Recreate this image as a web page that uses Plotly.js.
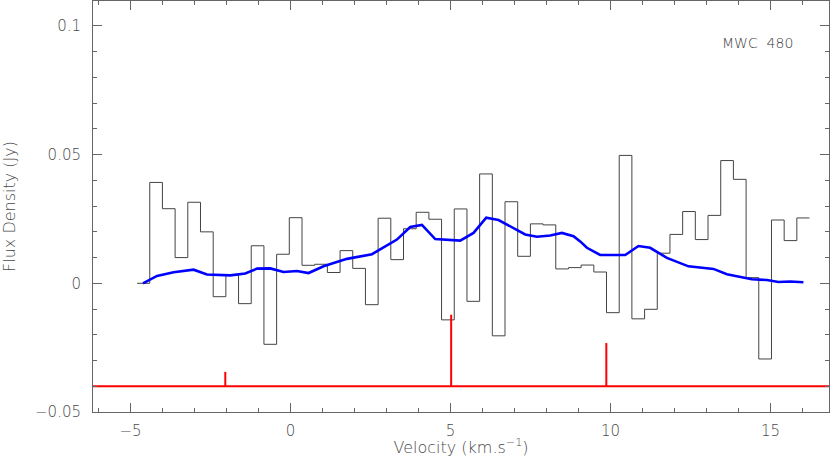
<!DOCTYPE html>
<html>
<head>
<meta charset="utf-8">
<script src="https://cdn.plot.ly/plotly-3.0.1.min.js"></script>
<style>html,body{margin:0;padding:0;background:#fff;}#chart{width:830px;height:457px;}</style>
</head>
<body>
<div id="chart"></div>
<script>
// Histogram spectrum: channel centre velocities (km/s) and flux (Jy)
var velocity = [-4.600,-4.203,-3.807,-3.410,-3.014,-2.617,-2.220,-1.824,-1.427,-1.031,
  -0.634,-0.237,0.159,0.556,0.952,1.349,1.746,2.142,2.539,2.935,
  3.332,3.729,4.125,4.522,4.918,5.315,5.712,6.108,6.505,6.901,
  7.298,7.695,8.091,8.488,8.884,9.281,9.678,10.074,10.471,10.867,
  11.264,11.661,12.057,12.454,12.850,13.247,13.644,14.040,14.437,14.833,
  15.230,15.627,16.023];
var flux = [0.0000,0.0392,0.0290,0.0100,0.0315,0.0200,-0.0052,0.0031,-0.0079,0.0146,
  -0.0237,0.0113,0.0255,0.0070,0.0074,0.0042,0.0127,0.0058,-0.0083,0.0253,
  0.0092,0.0212,0.0276,0.0249,-0.0142,0.0289,-0.0070,0.0425,-0.0204,0.0317,
  0.0105,0.0231,0.0227,0.0056,0.0061,0.0071,0.0044,-0.0114,0.0497,-0.0138,
  -0.0101,0.0117,0.0190,0.0279,0.0170,0.0264,0.0477,0.0404,0.0022,-0.0294,
  0.0246,0.0166,0.0254];
var channelWidth = 0.3966;

// Smoothed model (blue)
var modelV = [-4.613,-4.175,-3.656,-3.031,-2.613,-1.884,-1.416,-1.050,-0.634,-0.219,
  0.200,0.563,1.031,1.553,1.763,2.544,3.325,3.740,4.106,4.522,
  5.303,5.719,6.116,6.500,7.075,7.334,7.700,8.116,8.481,8.844,
  9.053,9.263,9.678,10.459,10.875,11.240,11.763,12.438,13.219,13.638,
  14.419,14.888,15.250,15.616,16.030];
var modelF = [0.0000,0.0029,0.0043,0.0053,0.0034,0.0031,0.0038,0.0057,0.0058,0.0044,
  0.0048,0.0040,0.0066,0.0085,0.0095,0.0113,0.0170,0.0219,0.0227,0.0172,
  0.0166,0.0196,0.0255,0.0246,0.0206,0.0190,0.0181,0.0186,0.0196,0.0183,
  0.0163,0.0138,0.0110,0.0110,0.0145,0.0138,0.0099,0.0066,0.0056,0.0035,
  0.0016,0.0013,0.0005,0.0007,0.0004];

// Hyperfine component markers (red)
var lineV = [-2.04, 5.02, 9.87];
var lineTop = [-0.0344, -0.0122, -0.0232];
var lineBase = -0.040;

var xRange = [-6.175, 16.83];
var yRange = [-0.05, 0.1097];

// histogram edges
var hx = [], hy = [];
for (var i = 0; i < velocity.length; i++) {
  hx.push(velocity[i] - channelWidth / 2);
  hy.push(flux[i]);
}
hx.push(velocity[velocity.length - 1] + channelWidth / 2);
hy.push(flux[flux.length - 1]);

var vx = [], vy = [];
for (var j = 0; j < lineV.length; j++) {
  vx.push(lineV[j], lineV[j], null);
  vy.push(lineBase, lineTop[j], null);
}

var axisColor = '#666';
var fam = 'DejaVu Sans, Liberation Sans, sans-serif';
var txtColor = '#4a4a4a';
var traces = [
  {x: hx, y: hy, type: 'scatter', mode: 'lines', line: {shape: 'hv', color: '#444', width: 1}, hoverinfo: 'skip'},
  {x: modelV, y: modelF, type: 'scatter', mode: 'lines', line: {color: '#0000ff', width: 2.6}},
  {x: xRange, y: [lineBase, lineBase], type: 'scatter', mode: 'lines', line: {color: '#ff0000', width: 2}},
  {x: vx, y: vy, type: 'scatter', mode: 'lines', line: {color: '#ff0000', width: 2}}
];

var layout = {
  width: 830, height: 457,
  margin: {l: 93, r: 1, t: 1, b: 45},
  paper_bgcolor: '#fff', plot_bgcolor: '#fff',
  showlegend: false,
  font: {family: fam, size: 15, color: txtColor, weight: 200},
  xaxis: {
    range: xRange, showgrid: false, zeroline: false,
    showline: true, linecolor: axisColor, linewidth: 1, mirror: 'allticks',
    ticks: 'inside', ticklen: 9, tickcolor: axisColor, tickwidth: 1,
    tick0: 0, dtick: 5,
    ticklabelstandoff: 5,
    tickfont: {family: fam, size: 15, color: txtColor, weight: 200},
    minor: {dtick: 1, ticks: 'inside', ticklen: 4, tickcolor: axisColor, showgrid: false},
    title: {text: 'Velocity (km.s<sup>\u22121</sup>)', font: {family: fam, size: 16, color: txtColor, weight: 200}, standoff: 9}
  },
  yaxis: {
    range: yRange, showgrid: false, zeroline: false,
    showline: true, linecolor: axisColor, linewidth: 1, mirror: 'allticks',
    ticks: 'inside', ticklen: 9, tickcolor: axisColor, tickwidth: 1,
    tick0: 0, dtick: 0.05,
    ticklabelstandoff: 8,
    tickfont: {family: fam, size: 15, color: txtColor, weight: 200},
    minor: {dtick: 0.01, ticks: 'inside', ticklen: 4, tickcolor: axisColor, showgrid: false},
    title: {text: 'Flux Density (Jy)', font: {family: fam, size: 16, color: txtColor, weight: 200}, standoff: 20}
  },
  annotations: [
    {x: 14.58, y: 0.0932, xref: 'x', yref: 'y', text: 'MWC  480', showarrow: false,
     font: {family: fam, size: 14, color: '#3a3a3a', weight: 200}, xanchor: 'center', yanchor: 'middle'}
  ]
};

Plotly.newPlot('chart', traces, layout, {staticPlot: true, displayModeBar: false});
</script>
</body>
</html>
